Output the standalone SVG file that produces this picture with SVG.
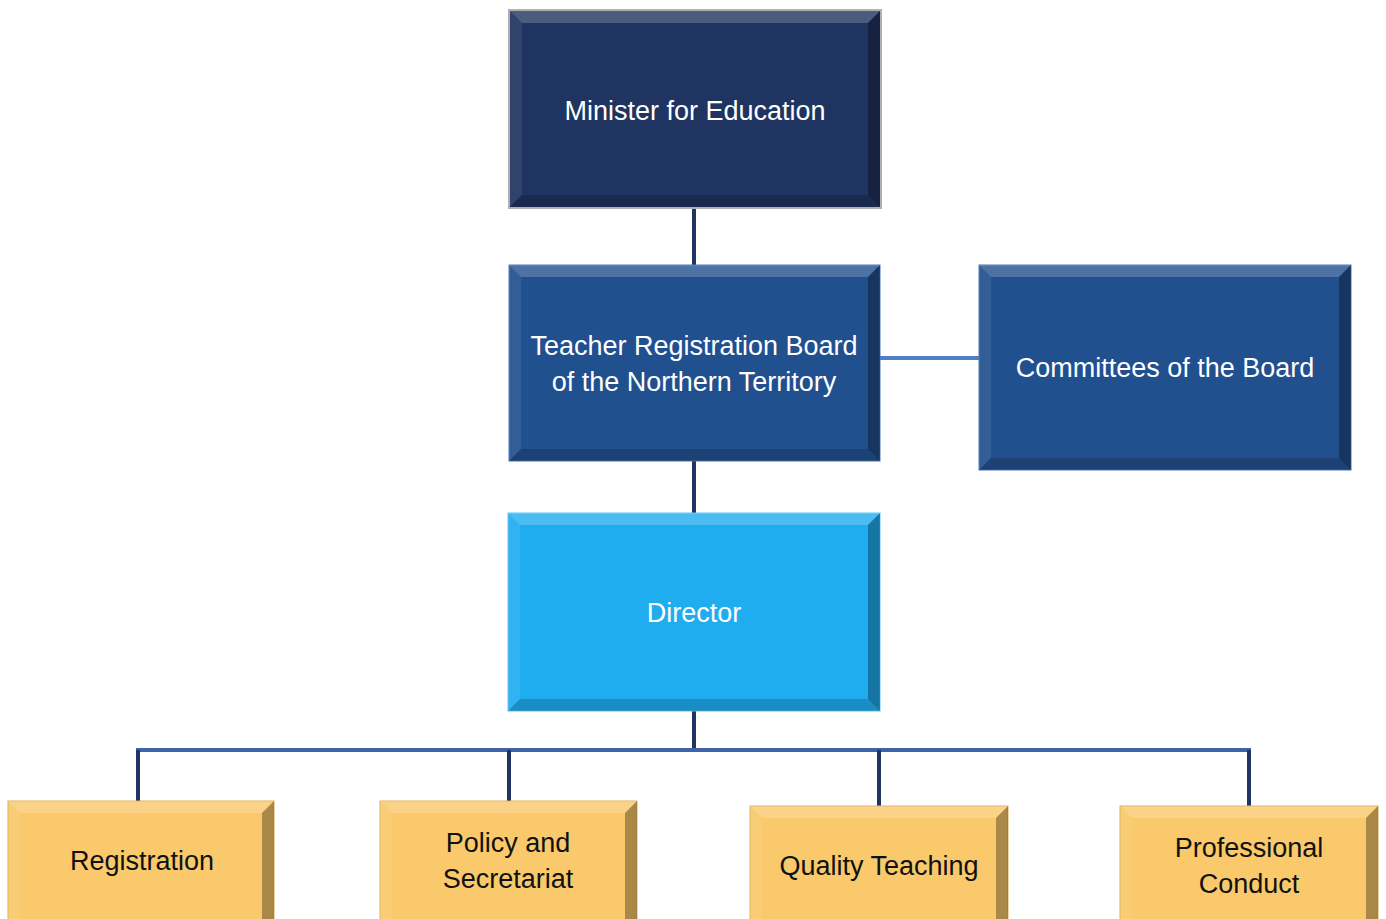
<svg xmlns="http://www.w3.org/2000/svg" width="1386" height="919" viewBox="0 0 1386 919">
<style>
.t{font-family:"Liberation Sans",Arial,sans-serif;font-size:27px;text-anchor:middle}
.w{fill:#ffffff}
.k{fill:#111111}
.hi{fill:#ffffff;opacity:0.2}
.hl{fill:#ffffff;opacity:0.08}
.sh{fill:#000000;opacity:0.32}
.sb{fill:#000000;opacity:0.18}
.c1{stroke:#1f3460;stroke-width:4;fill:none}
.c2{stroke:#3f63a8;stroke-width:4;fill:none}
.c3{stroke:#4f7fc4;stroke-width:4;fill:none}
</style>
<rect width="1386" height="919" fill="#ffffff"/>
<g id="connectors">
<line class="c1" x1="694" y1="208" x2="694" y2="266"/>
<line class="c1" x1="694" y1="461" x2="694" y2="514"/>
<line class="c1" x1="694" y1="711" x2="694" y2="752"/>
<line class="c3" x1="880" y1="358" x2="980" y2="358"/>
<line class="c2" x1="136" y1="750" x2="1251" y2="750"/>
<line class="c1" x1="138" y1="750" x2="138" y2="802"/>
<line class="c1" x1="509" y1="750" x2="509" y2="802"/>
<line class="c1" x1="879" y1="750" x2="879" y2="807"/>
<line class="c1" x1="1249" y1="750" x2="1249" y2="807"/>
</g>
<g id="minister">
<rect x="509" y="10" width="372" height="198" fill="#1f3460" stroke="#b0b0b0" stroke-width="2"/>
<polygon class="hi" points="510,11 880,11 868,23 522,23"/>
<polygon class="hl" points="510,11 522,23 522,195 510,207"/>
<polygon class="sh" points="880,11 880,207 868,195 868,23"/>
<polygon class="sb" points="510,207 880,207 868,195 522,195"/>
<text class="t w" x="695" y="120">Minister for Education</text>
</g>
<g id="board">
<rect x="509" y="265" width="371" height="196" fill="#21508f" stroke="#4a78b8" stroke-width="1"/>
<polygon class="hi" points="509,265 880,265 868,277 521,277"/>
<polygon class="hl" points="509,265 521,277 521,449 509,461"/>
<polygon class="sh" points="880,265 880,461 868,449 868,277"/>
<polygon class="sb" points="509,461 880,461 868,449 521,449"/>
<text class="t w" x="694" y="355">Teacher Registration Board</text>
<text class="t w" x="694" y="391">of the Northern Territory</text>
</g>
<g id="committees">
<rect x="979" y="265" width="372" height="205" fill="#21508f" stroke="#4a78b8" stroke-width="1"/>
<polygon class="hi" points="979,265 1351,265 1339,277 991,277"/>
<polygon class="hl" points="979,265 991,277 991,458 979,470"/>
<polygon class="sh" points="1351,265 1351,470 1339,458 1339,277"/>
<polygon class="sb" points="979,470 1351,470 1339,458 991,458"/>
<text class="t w" x="1165" y="377">Committees of the Board</text>
</g>
<g id="director">
<rect x="508" y="513" width="372" height="198" fill="#20adf0" stroke="#5ac6f5" stroke-width="1"/>
<polygon class="hi" points="508,513 880,513 868,525 520,525"/>
<polygon class="hl" points="508,513 520,525 520,699 508,711"/>
<polygon class="sh" points="880,513 880,711 868,699 868,525"/>
<polygon class="sb" points="508,711 880,711 868,699 520,699"/>
<text class="t w" x="694" y="622">Director</text>
</g>
<g id="registration">
<rect x="8" y="801" width="266" height="130" fill="#f9c96b" stroke="#e0b050" stroke-width="1"/>
<polygon class="hi" points="8,801 274,801 262,813 20,813"/>
<polygon class="hl" points="8,801 20,813 20,931 8,931"/>
<polygon class="sh" points="274,801 274,931 262,931 262,813"/>
<text class="t k" x="142" y="870">Registration</text>
</g>
<g id="policy">
<rect x="380" y="801" width="257" height="130" fill="#f9c96b" stroke="#e0b050" stroke-width="1"/>
<polygon class="hi" points="380,801 637,801 625,813 392,813"/>
<polygon class="hl" points="380,801 392,813 392,931 380,931"/>
<polygon class="sh" points="637,801 637,931 625,931 625,813"/>
<text class="t k" x="508" y="852">Policy and</text>
<text class="t k" x="508" y="888">Secretariat</text>
</g>
<g id="quality">
<rect x="750" y="806" width="258" height="125" fill="#f9c96b" stroke="#e0b050" stroke-width="1"/>
<polygon class="hi" points="750,806 1008,806 996,818 762,818"/>
<polygon class="hl" points="750,806 762,818 762,931 750,931"/>
<polygon class="sh" points="1008,806 1008,931 996,931 996,818"/>
<text class="t k" x="879" y="875">Quality Teaching</text>
</g>
<g id="professional">
<rect x="1120" y="806" width="258" height="125" fill="#f9c96b" stroke="#e0b050" stroke-width="1"/>
<polygon class="hi" points="1120,806 1378,806 1366,818 1132,818"/>
<polygon class="hl" points="1120,806 1132,818 1132,931 1120,931"/>
<polygon class="sh" points="1378,806 1378,931 1366,931 1366,818"/>
<text class="t k" x="1249" y="857">Professional</text>
<text class="t k" x="1249" y="893">Conduct</text>
</g>
</svg>
